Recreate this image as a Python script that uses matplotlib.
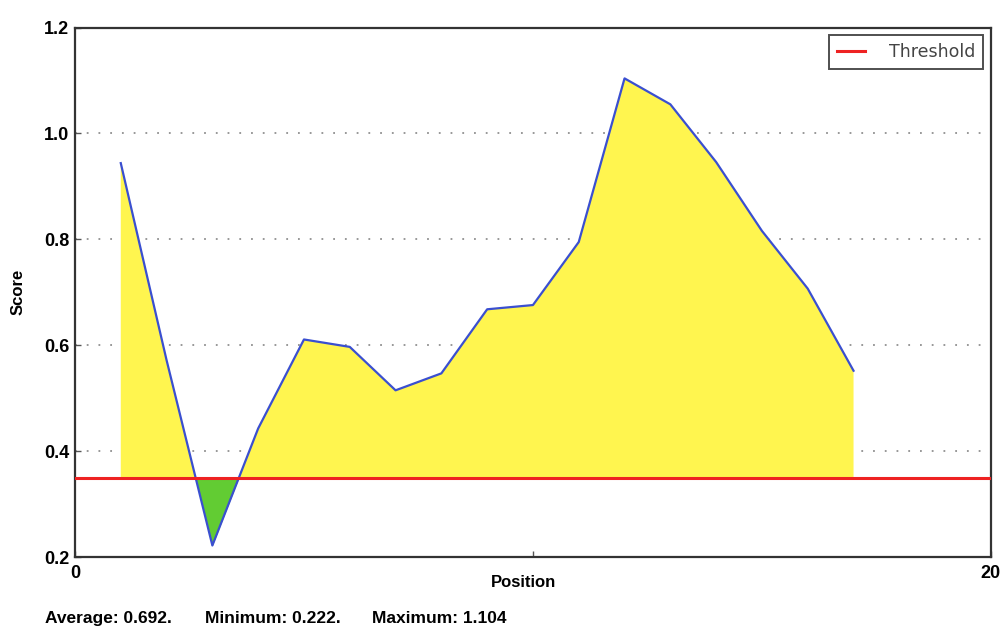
import numpy as np
import matplotlib
matplotlib.use("Agg")
import matplotlib.pyplot as plt

# Per-position scores along the sequence
positions = np.arange(1, 18)
scores = [0.944, 0.572, 0.222, 0.443, 0.611, 0.597, 0.515, 0.547, 0.668,
          0.676, 0.795, 1.104, 1.055, 0.946, 0.816, 0.707, 0.552]
threshold = 0.35

x_ticks = [0, 10, 20]
x_tick_labels = ["0", "", "20"]
y_ticks = [0.2, 0.4, 0.6, 0.8, 1.0, 1.2]

scores_arr = np.array(scores)
avg = scores_arr.mean()
mn = scores_arr.min()
mx = scores_arr.max()

fig = plt.figure(figsize=(10.05, 6.26), dpi=100)
ax = fig.add_axes([0.0746, 0.110, 0.9114, 0.846])

bold_font = dict(family="Liberation Sans", weight="bold")

thr = np.full_like(scores_arr, threshold)
ax.fill_between(positions, thr, scores_arr, where=scores_arr >= thr,
                interpolate=True, color="#fff54f", linewidth=0, zorder=1)
ax.fill_between(positions, thr, scores_arr, where=scores_arr <= thr,
                interpolate=True, color="#62cc33", linewidth=0, zorder=1)
ax.plot(positions, scores_arr, color="#3a4fd0", linewidth=1.6, zorder=3)
ax.axhline(threshold, color="#ee2222", linewidth=2.2, zorder=4, label="Threshold")

ax.set_xlim(0, 20)
ax.set_ylim(0.2, 1.2)
ax.set_xticks(x_ticks)
ax.set_xticklabels(x_tick_labels)
ax.set_yticks(y_ticks)
ax.set_yticklabels([f"{v:.1f}" for v in y_ticks])
for lbl in ax.get_xticklabels() + ax.get_yticklabels():
    lbl.set_fontfamily("Liberation Sans")
    lbl.set_fontweight("bold")
    lbl.set_fontsize(13)

ax.tick_params(axis="y", direction="in", length=4, width=1, color="#555555",
               right=False, pad=4)
ax.tick_params(axis="x", direction="in", length=4, width=1, color="#555555",
               top=False, pad=6)
ax.yaxis.grid(True, linestyle=(0, (1, 5.5)), color="#909090", linewidth=1.3)
ax.xaxis.grid(False)
ax.set_axisbelow(True)

for sp in ax.spines.values():
    sp.set_color("#333333")
    sp.set_linewidth(1.6)

ax.set_xlabel("Position", fontsize=12, **bold_font)
ax.set_ylabel("Score", fontsize=12, **bold_font)
ax.xaxis.set_label_coords(0.49, -0.033)
ax.yaxis.set_label_coords(-0.0535, 0.5)

leg = ax.legend(loc="upper right", fontsize=12.5, frameon=True, fancybox=False,
                borderpad=0.45, handlelength=1.6, handletextpad=1.4,
                borderaxespad=0.45)
leg.get_frame().set_edgecolor("#222222")
leg.get_frame().set_linewidth(1.4)
for t in leg.get_texts():
    t.set_color("#444444")

footer_y = 1 - 623 / 626
fig.text(45 / 1005, footer_y, f"Average: {avg:.3f}.", fontsize=12.5,
         va="baseline", ha="left", **bold_font)
fig.text(205 / 1005, footer_y, f"Minimum: {mn:.3f}.", fontsize=12.5,
         va="baseline", ha="left", **bold_font)
fig.text(372 / 1005, footer_y, f"Maximum: {mx:.3f}", fontsize=12.5,
         va="baseline", ha="left", **bold_font)

fig.savefig("out.png", dpi=100, facecolor="white")
